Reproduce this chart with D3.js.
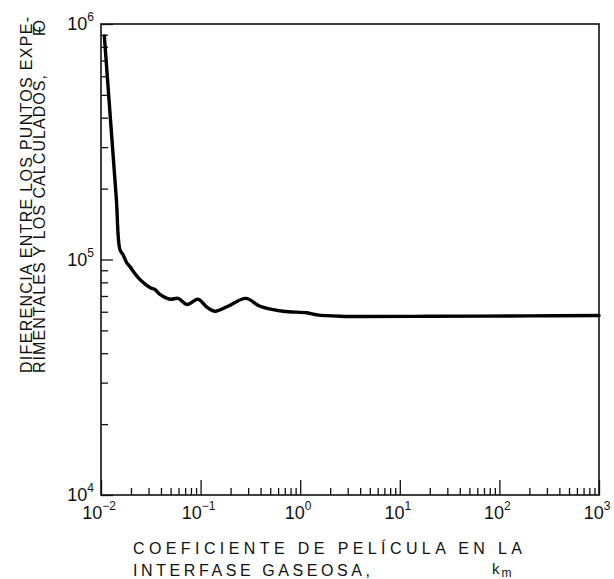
<!DOCTYPE html>
<html>
<head>
<meta charset="utf-8">
<script src="https://cdn.jsdelivr.net/npm/d3@7"></script>
<style>
  body { margin: 0; background: #fff; }
  text { font-family: "Liberation Sans", "DejaVu Sans", sans-serif; fill: #111; }
</style>
</head>
<body>
<script>
// curve: km (x) vs FO (y)
var kmValues = [0.0108, 0.01311, 0.01428, 0.0155, 0.0166, 0.0181, 0.0195, 0.0235, 0.031, 0.0348,
  0.0391, 0.0493, 0.0593, 0.073, 0.0942, 0.1159, 0.1396, 0.1884, 0.2856, 0.3946,
  0.671, 1.17, 1.475, 2.51, 3.98, 20, 200, 1000]
var foValues = [8.9e5, 2.92e5, 1.79e5, 1.10e5, 1.05e5, 9.7e4, 9.33e4, 8.4e4, 7.6e4, 7.46e4,
  7.11e4, 6.78e4, 6.84e4, 6.44e4, 6.78e4, 6.27e4, 6.03e4, 6.33e4, 6.84e4, 6.33e4,
  6.03e4, 5.94e4, 5.82e4, 5.74e4, 5.73e4, 5.74e4, 5.76e4, 5.78e4]

var xDecades = [-2, -1, 0, 1, 2, 3]
var yDecades = [4, 5, 6]
var xTitle1 = 'COEFICIENTE DE PELÍCULA EN LA'
var xTitle2 = 'INTERFASE GASEOSA,'
var yTitle1 = 'DIFERENCIA ENTRE LOS PUNTOS EXPE-'
var yTitle2 = 'RIMENTALES Y LOS CALCULADOS,'

var W = 614, H = 579
var pLeft = 101, pRight = 599, pTop = 24, pBottom = 495

var svg = d3.select('body').append('svg')
  .attr('width', W).attr('height', H)

var x = d3.scaleLog().domain([1e-2, 1e3]).range([pLeft, pRight])
var y = d3.scaleLog().domain([1e4, 1e6]).range([pBottom, pTop])

function minors(decades) {
  var out = []
  for (var i = 0; i < decades.length - 1; i++) {
    for (var m = 2; m <= 9; m++) out.push(m * Math.pow(10, decades[i]))
  }
  return out
}
var xMajor = xDecades.map(function(d){ return Math.pow(10, d) })
var yMajor = yDecades.map(function(d){ return Math.pow(10, d) })

function styleAxis(g) {
  g.select('.domain').remove()
  g.selectAll('line').attr('stroke', '#111').attr('stroke-width', 1.3)
}

// x ticks (pointing up, inside)
svg.append('g').attr('transform', 'translate(0,' + pBottom + ')')
  .call(d3.axisBottom(x).tickValues(minors(xDecades)).tickSize(-7).tickFormat(''))
  .call(styleAxis)
svg.append('g').attr('transform', 'translate(0,' + pBottom + ')')
  .call(d3.axisBottom(x).tickValues(xMajor).tickSize(-15).tickFormat(''))
  .call(styleAxis)

// y ticks (pointing right, inside)
svg.append('g').attr('transform', 'translate(' + pLeft + ',0)')
  .call(d3.axisLeft(y).tickValues(minors(yDecades)).tickSize(-7).tickFormat(''))
  .call(styleAxis)
svg.append('g').attr('transform', 'translate(' + pLeft + ',0)')
  .call(d3.axisLeft(y).tickValues(yMajor).tickSize(-12).tickFormat(''))
  .call(styleAxis)

// frame
svg.append('rect')
  .attr('x', pLeft).attr('y', pTop)
  .attr('width', pRight - pLeft).attr('height', pBottom - pTop)
  .attr('fill', 'none').attr('stroke', '#111').attr('stroke-width', 1.6)

// tick labels
var xl = svg.append('g').selectAll('text').data(xDecades).enter().append('text')
  .attr('x', function(d){ return x(Math.pow(10, d)) - 2 })
  .attr('y', 519)
  .attr('text-anchor', 'middle')
  .style('font-size', '18px')
xl.append('tspan').text('10')
xl.append('tspan').attr('dy', -9).style('font-size', '12px')
  .text(function(d){ return d < 0 ? '\u2212' + (-d) : d })

var yl = svg.append('g').selectAll('text').data(yDecades).enter().append('text')
  .attr('x', 94)
  .attr('y', function(d){ return y(Math.pow(10, d)) + 6 })
  .attr('text-anchor', 'end')
  .style('font-size', '18px')
yl.append('tspan').text('10')
yl.append('tspan').attr('dy', -9).style('font-size', '12px').text(function(d){ return d })

// curve
var pts = kmValues.map(function(k, i){ return [k, foValues[i]] })
svg.append('path')
  .datum(pts)
  .attr('fill', 'none')
  .attr('stroke', '#000')
  .attr('stroke-width', 3.4)
  .attr('stroke-linejoin', 'round')
  .attr('stroke-linecap', 'round')
  .attr('d', d3.line()
    .x(function(d){ return x(d[0]) })
    .y(function(d){ return y(d[1]) })
    .curve(d3.curveCatmullRom.alpha(0.5)))

// x title
svg.append('text').attr('x', 133).attr('y', 554)
  .attr('textLength', 389).attr('lengthAdjust', 'spacing')
  .style('font-size', '16px').text(xTitle1)
svg.append('text').attr('x', 133).attr('y', 576)
  .attr('textLength', 237).attr('lengthAdjust', 'spacing')
  .style('font-size', '16px').text(xTitle2)
var km = svg.append('text').attr('x', 492).attr('y', 574).style('font-size', '15px')
km.append('tspan').text('k')
km.append('tspan').attr('dy', 3).attr('dx', 2).style('font-size', '12px').text('m')

// y title (rotated)
svg.append('text').attr('transform', 'translate(32,373) rotate(-90)')
  .attr('textLength', 356).attr('lengthAdjust', 'spacing')
  .style('font-size', '16px').text(yTitle1)
svg.append('text').attr('transform', 'translate(45,373) rotate(-90)')
  .attr('textLength', 298).attr('lengthAdjust', 'spacing')
  .style('font-size', '16px').text(yTitle2)
svg.append('text').attr('transform', 'translate(45,36) rotate(-90)')
  .attr('textLength', 16).attr('lengthAdjust', 'spacing')
  .style('font-size', '16px').text('FO')
</script>
</body>
</html>
